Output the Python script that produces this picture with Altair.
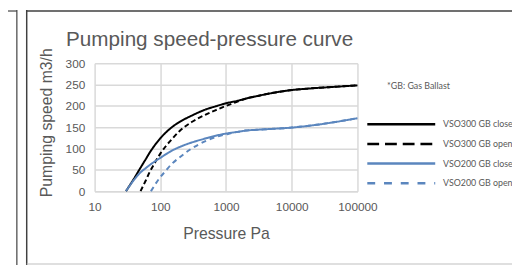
import altair as alt
import pandas as pd

series = ["VSO300 GB closed", "VSO300 GB open", "VSO200 GB closed", "VSO200 GB open"]

vso300_closed_p = [30, 40, 50, 60, 70, 80, 100, 150, 200, 300, 500, 700, 1000, 1500, 2000, 3000, 5000, 10000, 20000, 50000, 100000]
vso300_closed_s = [0, 30, 55, 75, 92, 105, 124, 150, 163, 177, 192, 199, 206, 212, 217, 223, 230, 237, 241, 245, 248]

vso300_open_p = [50, 60, 70, 80, 100, 150, 200, 300, 500, 700, 1000, 1500, 2000, 3000, 5000, 10000, 20000, 50000, 100000]
vso300_open_s = [0, 25, 47, 63, 88, 122, 142, 162, 180, 190, 200, 210, 217, 223, 230, 237, 241, 245, 248]

vso200_closed_p = [30, 40, 50, 60, 70, 100, 150, 200, 300, 500, 700, 1000, 1500, 2000, 3000, 5000, 10000, 20000, 50000, 100000]
vso200_closed_s = [0, 27, 44, 54, 62, 78, 95, 104, 114, 124, 130, 135, 139, 142, 144, 146, 149, 154, 163, 171]

vso200_open_p = [72, 100, 120, 150, 200, 300, 500, 700, 1000, 1500, 2000, 3000, 5000, 10000, 20000, 50000, 100000]
vso200_open_s = [0, 33, 47, 64, 80, 100, 118, 127, 133, 139, 142, 144, 146, 149, 154, 163, 171]

x_ticks = [10, 100, 1000, 10000, 100000]
y_ticks = [0, 50, 100, 150, 200, 250, 300]

title_text = "Pumping speed-pressure curve"
note_text = "*GB: Gas Ballast"
x_title = "Pressure Pa"
y_title = "Pumping speed m3/h"

rows = []
for name, ps, vs in [
    (series[0], vso300_closed_p, vso300_closed_s),
    (series[1], vso300_open_p, vso300_open_s),
    (series[2], vso200_closed_p, vso200_closed_s),
    (series[3], vso200_open_p, vso200_open_s),
]:
    for i, (p, v) in enumerate(zip(ps, vs)):
        rows.append({"series": name, "pressure": p, "speed": v, "order": i})
df = pd.DataFrame(rows)
legend_df = pd.DataFrame({"series": series})
one = pd.DataFrame({"k": [0]})

TEXT = "#595959"
FONT = "Liberation Sans"

color_scale = alt.Scale(domain=series, range=["#000000", "#000000", "#5B86BE", "#5B86BE"])

lines = alt.Chart(df).mark_line(strokeWidth=2, interpolate="monotone").encode(
    x=alt.X("pressure:Q",
            scale=alt.Scale(type="log", domain=[10, 100000], nice=False),
            axis=alt.Axis(values=x_ticks, format="d", title=x_title, labelPadding=11,
                          labelFlush=False, labelOverlap=False,
                          titleX=133.5, titleY=43, titleBaseline="middle",
                          domain=True, domainColor="#d9d9d9", domainWidth=1.5)),
    y=alt.Y("speed:Q",
            scale=alt.Scale(domain=[0, 300], nice=False),
            axis=alt.Axis(values=y_ticks, title=y_title, labelPadding=10, domain=False,
                          labelFlush=False,
                          titleX=-49, titleY=60, titleBaseline="middle", titleAngle=-90)),
    color=alt.Color("series:N", scale=color_scale, legend=None),
    strokeDash=alt.StrokeDash("series:N",
                              scale=alt.Scale(domain=series, range=[[1, 0], [5, 3], [1, 0], [5, 4]]),
                              legend=None),
    order="order:Q",
)

leg_y = alt.Y("series:N", scale=alt.Scale(type="point", domain=series, range=[62, 122], padding=0), axis=None)

leg_rules = alt.Chart(legend_df).mark_rule(strokeWidth=2.5).encode(
    x=alt.value(277), x2=alt.value(346), y=leg_y,
    color=alt.Color("series:N", scale=color_scale, legend=None),
    strokeDash=alt.StrokeDash("series:N",
                              scale=alt.Scale(domain=series, range=[[1, 0], [12, 6], [1, 0], [8, 9]]),
                              legend=None),
)

leg_text = alt.Chart(legend_df).mark_text(align="left", baseline="middle", fontSize=9,
                                         font="Lato", color=TEXT).encode(
    x=alt.value(354), y=leg_y, text="series:N")

note = alt.Chart(one).mark_text(align="left", baseline="middle", fontSize=9, font="Lato",
                                color=TEXT, text=note_text).encode(x=alt.value(297), y=alt.value(23))

title = alt.Chart(one).mark_text(align="left", baseline="alphabetic", fontSize=21, font=FONT,
                                 color=TEXT, text=title_text).encode(x=alt.value(-29), y=alt.value(-17))

frame_dark = "#404040"
f1 = alt.Chart(one).mark_rule(color=frame_dark, strokeWidth=1.5).encode(
    x=alt.value(-69), y=alt.value(-54), y2=alt.value(205))
f2 = alt.Chart(one).mark_rule(color=frame_dark, strokeWidth=1.5).encode(
    x=alt.value(-69), x2=alt.value(424), y=alt.value(-53))
f3 = alt.Chart(one).mark_rule(color=frame_dark, strokeWidth=1.2).encode(
    x=alt.value(-79), y=alt.value(-54), y2=alt.value(205))
f4 = alt.Chart(one).mark_rule(color=frame_dark, strokeWidth=1.2).encode(
    x=alt.value(-88), x2=alt.value(-79), y=alt.value(-53))
f5 = alt.Chart(one).mark_rule(color="#bfbfbf", strokeWidth=1.2).encode(
    x=alt.value(-69), x2=alt.value(424), y=alt.value(204))

chart = alt.layer(lines, leg_rules, leg_text, note, title, f1, f2, f3, f4, f5).resolve_scale(
    y="independent", strokeDash="independent"
).properties(
    width=267, height=130,
    autosize=alt.AutoSizeParams(type="none"),
    padding={"left": 88, "top": 54, "right": 157, "bottom": 75},
    background="white",
).configure_view(stroke=None).configure_axis(
    gridColor="#d9d9d9", gridWidth=1.5, ticks=False,
    labelColor=TEXT, labelFont=FONT, labelFontSize=12,
    titleColor=TEXT, titleFont=FONT, titleFontSize=16, titleFontWeight="normal",
)

chart.save("out.html", embed_options={"renderer": "svg", "actions": False})
